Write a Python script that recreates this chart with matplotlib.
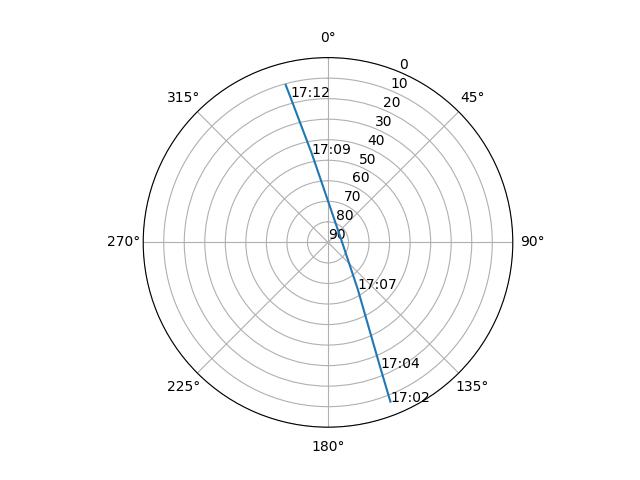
import numpy as np
import matplotlib
matplotlib.use("Agg")
import matplotlib.pyplot as plt

# satellite pass (azimuth deg, elevation deg)
times = ["17:02:00", "17:04:30", "17:07:00", "17:08:00",
         "17:09:30", "17:12:00", "17:12:40"]
azimuth = [158.6, 157.35, 147.5, 79.8, 349.7, 345.5, 344.96]
elevation = [6.7, 23.7, 63.1, 83.4, 46.2, 17.0, 10.6]
labelled = ["17:02:00", "17:04:30", "17:07:00", "17:09:30", "17:12:00"]

fig = plt.figure(figsize=(6.4, 4.8), dpi=100)
ax = fig.add_subplot(projection="polar")
ax.set_theta_zero_location("N")
ax.set_theta_direction(-1)

theta = np.radians(azimuth)
ax.plot(theta, elevation)

for t, th, el in zip(times, theta, elevation):
    if t in labelled:
        ax.text(th, el, t[:5])

ax.set_ylim(90, 0)
ax.set_yticks(range(0, 91, 10))

fig.savefig("out.png")
